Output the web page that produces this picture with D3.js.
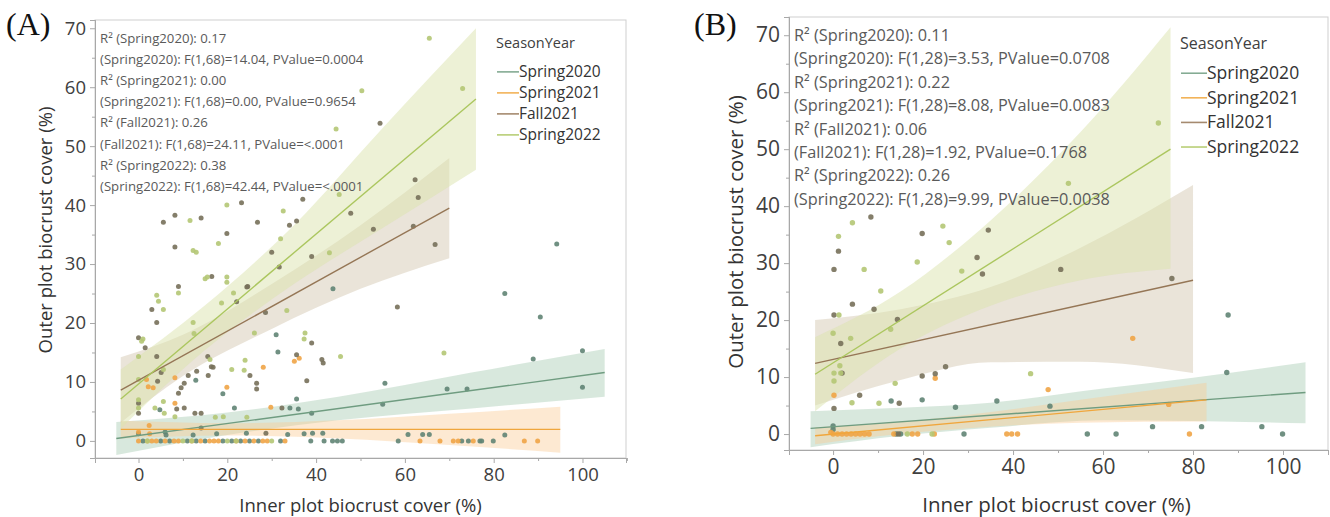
<!DOCTYPE html>
<html>
<head>
<meta charset="utf-8">
<script src="https://cdn.jsdelivr.net/npm/d3@7"></script>
<style>
  body { margin: 0; background: #fff; }
  svg text { font-family: "Open Sans", "Noto Sans", sans-serif; }
</style>
</head>
<body>
<div id="chart"></div>
<script>
var seasons = ["Spring2020", "Spring2021", "Fall2021", "Spring2022"];
var lineColors = ["#6f9c80", "#f0a63c", "#957656", "#abc65e"];
var dotColors = ["#618474", "#f0a446", "#77705a", "#b4c674"];
var bandColors = ["#a3c7ae", "#fbcb94", "#c4b596", "#dbe4ad"];

var xTicks = [0, 20, 40, 60, 80, 100];
var xMinor = [10, 30, 50, 70, 90, 110];
var yTicks = [0, 10, 20, 30, 40, 50, 60, 70];
var yMinor = [5, 15, 25, 35, 45, 55, 65];

var statsA = [
  "R\u00b2 (Spring2020): 0.17",
  "(Spring2020): F(1,68)=14.04, PValue=0.0004",
  "R\u00b2 (Spring2021): 0.00",
  "(Spring2021): F(1,68)=0.00, PValue=0.9654",
  "R\u00b2 (Fall2021): 0.26",
  "(Fall2021): F(1,68)=24.11, PValue=<.0001",
  "R\u00b2 (Spring2022): 0.38",
  "(Spring2022): F(1,68)=42.44, PValue=<.0001"
];
var statsB = [
  "R\u00b2 (Spring2020): 0.11",
  "(Spring2020): F(1,28)=3.53, PValue=0.0708",
  "R\u00b2 (Spring2021): 0.22",
  "(Spring2021): F(1,28)=8.08, PValue=0.0083",
  "R\u00b2 (Fall2021): 0.06",
  "(Fall2021): F(1,28)=1.92, PValue=0.1768",
  "R\u00b2 (Spring2022): 0.26",
  "(Spring2022): F(1,28)=9.99, PValue=0.0038"
];

// fitted lines [x0, y0, x1, y1], season order
var fitA = [[-5, 0.4, 105, 11.6], [-4, 1.95, 95, 1.95], [-4, 8.6, 70, 39.5], [-4, 7.1, 76, 58]];
var fitB = [[-5, 1.0, 105, 7.3], [-4, -0.3, 83, 6.0], [-4, 12.4, 80, 27.0], [-4, 10.5, 75, 50]];

// confidence bands [x, low, high]
var bandA2020 = [[-5, -2.4, 3.2], [20, 1.0, 4.8], [45, 3.5, 7.5], [75, 5.5, 11.6], [105, 7.5, 15.6]];
var bandA2021 = [[-4, 0.4, 3.4], [20, 0.9, 3.0], [45, 0.4, 3.5], [70, -0.7, 4.6], [95, -2.0, 5.8]];
var bandAFall = [[-4, 3.1, 14.2], [10, 11.0, 18.0], [30, 19.0, 26.6], [50, 25.8, 36.6], [70, 31.0, 48.0]];
var bandA2022 = [[-4, 2.1, 12.1], [15, 15.4, 23.0], [35, 26.6, 36.6], [55, 36.1, 53.1], [76, 46.0, 70.0]];

var bandB2020 = [[-5, -2.3, 4.0], [15, -0.3, 4.6], [35, 1.1, 5.5], [60, 2.4, 8.0], [80, 2.3, 9.9], [105, 1.9, 12.6]];
var bandB2021 = [[-4, -1.8, 1.2], [10, -0.4, 1.8], [30, 1.0, 3.4], [55, 2.0, 6.0], [83, 2.2, 9.0]];
var bandBFall = [[-4, 5.0, 20.0], [15, 9.5, 21.9], [35, 12.6, 25.8], [55, 12.7, 32.7], [80, 10.7, 43.7]];
var bandB2022 = [[-4, 4.0, 17.0], [15, 15.0, 25.0], [35, 22.5, 37.5], [55, 27.0, 53.0], [75, 29.0, 71.4]];

// observed points [inner, outer]
var aSpring2020 = [[94.2,33.4],[82.5,25],[90.5,21],[88.9,13.9],[100,15.3],[100,9.1],[69.5,8.8],[74,8.8],
  [55.5,9.8],[55,6.2],[39,4.7],[43.8,25.8],[31,18],[31.4,15.1],[35.6,7.1],[36,5.4],[34.1,5.6],[21.6,5.6],
  [19,8],[12.9,10.3],[4.8,5.3],[6,1.5],[6.2,1.0],[12.3,1.0],[17.6,1.2],[24.3,1.3],[33.6,1.1],[37.3,1.2],
  [39.2,1.3],[41.5,1.3],[60.7,1.1],[64,1.1],[65.5,1.1],[82.5,1],[0,1.2],[1,0],[5,0],[7,0],[11,0],[13,0],
  [15,0],[19,0],[21,0],[23,0],[25,0],[27,0],[32,0],[38.8,0],[41.8,0],[43.7,0],[44.8,0],[45.9,0],[58.5,0],
  [72.8,0],[74.3,0],[76.9,0],[77.3,0],[79.9,0]];
var aSpring2021 = [[1.8,10.4],[2.2,9.2],[3.3,9.0],[8.2,10.7],[8.2,6.4],[19.9,9.1],[28.1,12.5],[35.1,13.5],
  [36.2,14.0],[29.8,5.7],[2.4,2.6],[0,0],[2,0],[3,0],[4,0],[6,0],[8,0],[9,0],[12,0],[14,0],[16,0],[17,0],
  [18,0],[22,0],[24,0],[26,0],[28,0],[29,0],[33,0],[63.4,0],[67.9,0],[72,0],[86.9,0],[70.9,0],[75.4,0],
  [89.9,0],[0,1.5],[2.5,1.2]];
var aFall2021 = [[23.2,40.4],[37,41],[8.2,38.3],[5.6,37.1],[14.1,37.8],[26.8,37.1],[34,36.6],[35.6,37.3],
  [19.9,35.2],[8.2,32.9],[30,32],[31.7,29.5],[39,31.3],[16.5,27.9],[9,26.2],[24.6,26.2],[22.1,23.6],[3,22.3],
  [28.6,21.8],[4.1,20.1],[0,17.5],[1.5,15.8],[4.1,14.3],[39,16.6],[35.6,14.6],[15.6,14.3],[16.8,12.5],
  [25.1,11.1],[13.1,11.8],[11.2,11.1],[15.7,11.1],[5.1,11.6],[10.3,9.8],[9.6,9.0],[9,8.1],[26.6,9.8],
  [26.6,8.8],[0,4.7],[8.6,5.4],[10.3,5.6],[12.7,4.7],[14.1,4.7],[32.3,5.6],[14.1,2.2],[28.7,1.3],[54.4,53.9],
  [62.3,44.3],[63,41.3],[47.8,38.6],[52.9,35.9],[61.9,36.4],[66.8,33.3],[58.3,22.7],[41.3,13.8],[41.6,13.2],
  [37.9,10.2],[4.3,10.1],[0,6.4],[16.4,12.6],[24.4,26.1]];
var aSpring2022 = [[19.9,40.0],[11.6,37.4],[32.6,39],[12.3,32.3],[13,32],[18,33.5],[15,27.5],[19.9,27.8],
  [19.9,26.9],[9,25.1],[4.1,24.7],[4.5,23.7],[21.4,25.1],[5.6,22.3],[18.7,23.4],[33.4,22.1],[12.3,20.1],
  [26.1,18.3],[12.5,18.2],[0.7,16.9],[0,14.3],[37.5,18.3],[37.3,17.3],[16.1,13.8],[24,13.7],[21,12.1],
  [23.8,12],[0,10.4],[5.6,12.1],[0,5.6],[3.7,5.6],[5.8,4.7],[5.6,6.7],[8.2,4.1],[19.1,4.1],[24.4,4.0],
  [17.3,4.0],[65.5,68.3],[73,59.8],[50.3,59.4],[44.5,52.9],[45.2,41.8],[43,31.9],[68.8,14.9],[45.5,14.3],
  [32,34.3],[15.5,27.8],[0,7.0],[1,17.3],[2,0],[10,0],[12,0],[20,0],[22,0],[30,0]];

var bSpring2020 = [[12.9,5.8],[19.8,6.0],[27.2,4.7],[36.4,5.8],[0,1.4],[48.2,4.9],[87.8,20.9],[87.5,10.8],
  [71,1.3],[81.9,1.3],[95.3,1.3],[56.5,0],[62.9,0],[99.9,0],[29.1,0],[14,0],[15,0],[0,0.8]];
var bSpring2021 = [[0.2,6.8],[22.7,9.8],[66.6,16.8],[79.2,0],[38.6,0],[39.7,0],[41,0],[22.5,0],[17.6,0],
  [18.8,0],[0,0],[1,0],[2,0],[3,0],[4,0],[5,0],[6,0],[7,0],[8,0],[13.5,0],[74.6,5.2],[-0.5,0.3],[47.8,7.8]];
var bFall2021 = [[8.4,38.1],[1.2,32.1],[0.2,28.9],[4.3,22.8],[9.1,21.9],[0.2,20.9],[14.3,20.1],[1.7,15.9],
  [19.8,35.2],[34.5,35.8],[32,31],[33.2,28.1],[50.6,28.9],[75.3,27.3],[25,11.8],[22.7,10.6],[19.8,10.2],
  [2,10.7],[0.2,4.5],[5.9,6.8],[14.7,5.4],[14.5,0]];
var bSpring2022 = [[4.3,37.1],[1.2,34.7],[6.9,28.9],[10.6,25.1],[1.3,20.9],[12.8,18.4],[0,17.7],[3.9,16.8],
  [24.4,36.5],[25.8,33.6],[28.6,28.6],[18.7,30.2],[1.5,12],[1.7,10.7],[0.2,10.7],[0.2,9.3],[13.8,8.9],
  [4.2,5.5],[10.2,5.4],[72.3,54.6],[52.3,44],[43.9,10.6],[16.5,0],[22,0]];

var svg = d3.select("#chart").append("svg")
  .attr("width", 1330)
  .attr("height", 517);

function drawPanel(p) {
  var x = d3.scaleLinear().domain(p.xDomain).range([p.left, p.right]);
  var y = d3.scaleLinear().domain(p.yDomain).range([p.bottom, p.top]);
  var g = svg.append("g");

  // plot frame
  g.append("rect")
    .attr("x", p.left).attr("y", p.top)
    .attr("width", p.right - p.left).attr("height", p.bottom - p.top)
    .attr("fill", "none").attr("stroke", "#cfcfcf").attr("stroke-width", 1);

  // bands
  var area = d3.area()
    .x(d => x(d[0])).y0(d => y(d[1])).y1(d => y(d[2]))
    .curve(d3.curveMonotoneX);
  p.bands.forEach(function (b, i) {
    g.append("path").datum(b)
      .attr("d", area)
      .attr("fill", bandColors[i])
      .attr("fill-opacity", i == 3 ? 0.5 : (i == 2 ? 0.36 : 0.42));
  });

  // points
  p.points.forEach(function (pts, i) {
    g.selectAll(null).data(pts).enter().append("circle")
      .attr("cx", d => x(d[0]))
      .attr("cy", d => y(d[1]))
      .attr("r", p.r)
      .attr("fill", dotColors[i])
      .attr("fill-opacity", 0.9);
  });

  // fit lines
  p.fits.forEach(function (f, i) {
    g.append("line")
      .attr("x1", x(f[0])).attr("y1", y(f[1]))
      .attr("x2", x(f[2])).attr("y2", y(f[3]))
      .attr("stroke", lineColors[i]).attr("stroke-width", 1.4);
  });

  // axes
  var yAxis = g.append("g").attr("transform", `translate(${p.left},0)`)
    .call(d3.axisLeft(y).tickValues(yTicks).tickSize(5).tickPadding(4));
  g.append("g").attr("transform", `translate(${p.left},0)`)
    .call(d3.axisLeft(y).tickValues(yMinor).tickSize(3).tickFormat(""));
  var xAxis = g.append("g").attr("transform", `translate(0,${p.bottom})`)
    .call(d3.axisBottom(x).tickValues(xTicks).tickSize(5).tickPadding(p.xPad));
  g.append("g").attr("transform", `translate(0,${p.bottom})`)
    .call(d3.axisBottom(x).tickValues(xMinor).tickSize(3).tickFormat(""));
  g.selectAll(".domain").attr("stroke", "#a8a8a8");
  g.selectAll(".tick line").attr("stroke", "#a8a8a8");
  yAxis.selectAll("text").attr("font-size", p.tickSize).attr("fill", "#404040")
    .style("font-family", "'Open Sans', sans-serif");
  xAxis.selectAll("text").attr("font-size", p.tickSize).attr("fill", "#404040")
    .style("font-family", "'Open Sans', sans-serif");

  // axis titles
  g.append("text")
    .attr("x", (p.left + p.right) / 2 + p.xLabelShift)
    .attr("y", 512)
    .attr("text-anchor", "middle")
    .attr("font-size", p.labelSize).attr("fill", "#333")
    .text("Inner plot biocrust cover (%)");
  g.append("text")
    .attr("transform", `translate(${p.yLabelX},${p.yLabelY}) rotate(-90)`)
    .attr("text-anchor", "middle")
    .attr("font-size", p.labelSize).attr("fill", "#333")
    .text("Outer plot biocrust cover (%)");

  // panel tag
  g.append("text")
    .attr("x", p.tagX).attr("y", 35)
    .attr("font-size", 32)
    .style("font-family", "'Liberation Serif', 'Times New Roman', serif")
    .attr("fill", "#111")
    .text(p.tag);

  // stats text
  g.selectAll(null).data(p.stats).enter().append("text")
    .attr("x", p.left + 5)
    .attr("y", (d, i) => p.statY + i * p.statStep)
    .attr("font-size", p.statSize).attr("fill", "#5a5a5a")
    .text(d => d);

  // legend
  g.append("text")
    .attr("x", p.legX).attr("y", p.legY)
    .attr("font-size", p.legTitleSize).attr("fill", "#404040")
    .text("SeasonYear");
  seasons.forEach(function (s, i) {
    var yy = p.legY + p.legFirst + i * p.legStep;
    g.append("line")
      .attr("x1", p.legX + 1).attr("x2", p.legX + p.legLine)
      .attr("y1", yy - p.legSize * 0.33).attr("y2", yy - p.legSize * 0.33)
      .attr("stroke", lineColors[i]).attr("stroke-width", 1.6).attr("stroke-opacity", 0.85);
    g.append("text")
      .attr("x", p.legX + p.legLine)
      .attr("y", yy)
      .attr("font-size", p.legSize).attr("fill", "#333")
      .text(s);
  });
}

drawPanel({
  tag: "(A)", tagX: 6,
  left: 95, right: 626, top: 20, bottom: 458,
  xDomain: [-9.8, 109.8], yDomain: [-2.9, 71.4],
  bands: [bandA2020, bandA2021, bandAFall, bandA2022],
  points: [aSpring2020, aSpring2021, aFall2021, aSpring2022],
  fits: fitA, r: 2.5,
  tickSize: 18.5, labelSize: 18.5, xLabelShift: 0, xPad: 5,
  yLabelX: 52, yLabelY: 230,
  stats: statsA, statY: 43, statStep: 21.1, statSize: 13.2,
  legX: 496, legY: 48, legFirst: 29, legStep: 21, legLine: 23, legSize: 15.5, legTitleSize: 14.5
});

drawPanel({
  tag: "(B)", tagX: 694,
  left: 789, right: 1328, top: 17, bottom: 450,
  xDomain: [-9.8, 110], yDomain: [-2.8, 73.2],
  bands: [bandB2020, bandB2021, bandBFall, bandB2022],
  points: [bSpring2020, bSpring2021, bFall2021, bSpring2022],
  fits: fitB, r: 2.7,
  tickSize: 21, labelSize: 20.5, xLabelShift: -2, xPad: 4,
  yLabelX: 743, yLabelY: 232,
  stats: statsB, statY: 41, statStep: 23.4, statSize: 16.3,
  legX: 1180, legY: 49, legFirst: 30, legStep: 24.6, legLine: 27, legSize: 17.5, legTitleSize: 16
});
</script>
</body>
</html>
